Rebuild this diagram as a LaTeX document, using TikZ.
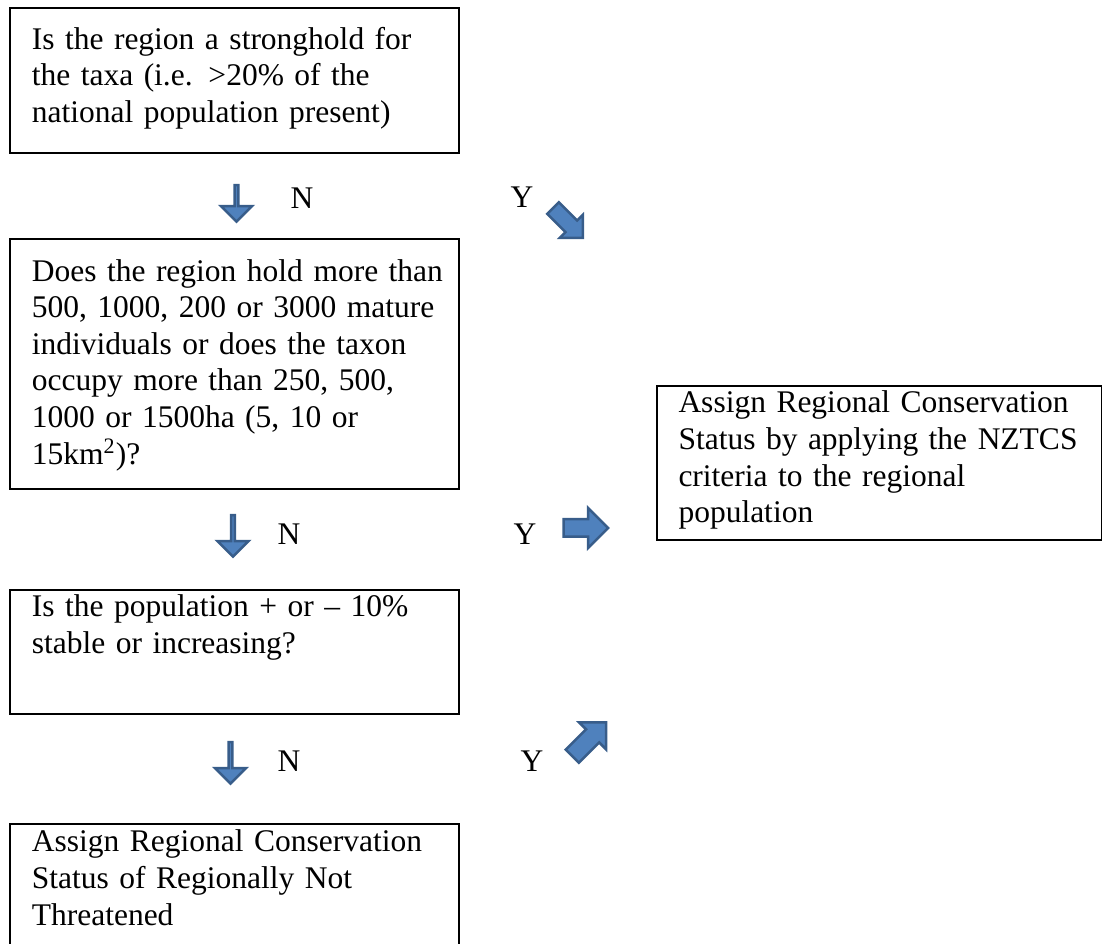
\documentclass[tikz,border=0pt]{standalone}
\usepackage{fontspec}
\setmainfont{Liberation Serif}
\usetikzlibrary{shapes.arrows}
\definecolor{arrowfill}{HTML}{4F81BD}
\definecolor{arrowline}{HTML}{385D8A}
\begin{document}
\begin{tikzpicture}[x=0.4pt,y=-0.4pt,
    font=\fontsize{12.6pt}{14.65pt}\selectfont,
    box/.style={draw,line width=0.8pt,anchor=north west,inner sep=0pt,
      align=left,text width=#1,execute at begin node={\leftskip=8.6pt}},
    box/.default=179.6pt,
    blockarrow/.style={single arrow,fill=arrowfill,draw=arrowline,line width=1pt,
      inner xsep=0pt,single arrow tip angle=90},
    downarrow/.style={blockarrow,shape border rotate=270,inner ysep=2.7pt,
      single arrow head extend=3.5pt,minimum width=12.4pt,minimum height=#1},
    answer/.style={anchor=base west,inner sep=0pt}]
  \clip (0,0) rectangle (1102,944);
  \node[box,text height=16.4pt,text depth=41.4pt] (q1) at (9.3,7.3)
    {Is the region a stronghold for\\
     the taxa (i.e. >20\% of the\\
     national population present)};
  \node[box,text height=16.7pt,text depth=83.3pt] (q2) at (9.3,238.3)
    {Does the region hold more than\\
     500, 1000, 200 or 3000 mature\\
     individuals or does the taxon\\
     occupy more than 250, 500,\\
     1000 or 1500ha (5, 10 or\\
     15km\textsuperscript{2})?};
  \node[box,text height=10.7pt,text depth=39pt] (q3) at (9.3,589)
    {Is the population + or – 10\%\\
     stable or increasing?};
  \node[box,text height=11.3pt,text depth=60pt] (rnt) at (9.3,822.7)
    {Assign Regional Conservation\\
     Status of Regionally Not\\
     Threatened};
  \node[box=178pt,text height=10.8pt,text depth=50.8pt] (nztcs) at (656,385)
    {Assign Regional Conservation\\
     Status by applying the NZTCS\\
     criteria to the regional\\
     population};
  \node[downarrow=14.6pt] (down1) at (236.5,202.5) {};
  \node[downarrow=16.6pt] (down2) at (233,535) {};
  \node[downarrow=16.6pt] (down3) at (230.5,762) {};
  \node[blockarrow,rotate=-45,inner ysep=2.8pt,single arrow head extend=3.2pt,
    minimum width=12pt,minimum height=16.8pt] (yes1) at (565,220) {};
  \node[blockarrow,inner ysep=3pt,single arrow head extend=4.5pt,
    minimum width=15pt,minimum height=17.8pt] (yes2) at (581.5,528) {};
  \node[blockarrow,rotate=45,inner ysep=3.2pt,single arrow head extend=4pt,
    minimum width=14.4pt,minimum height=19.2pt] (yes3) at (586,742.5) {};
  \node[answer] (no1) at (290,209) {N};
  \node[answer] (y1) at (510,208) {Y};
  \node[answer] (no2) at (277,545) {N};
  \node[answer] (y2) at (513,545) {Y};
  \node[answer] (no3) at (277,772) {N};
  \node[answer] (y3) at (520,772) {Y};
\end{tikzpicture}
\end{document}
